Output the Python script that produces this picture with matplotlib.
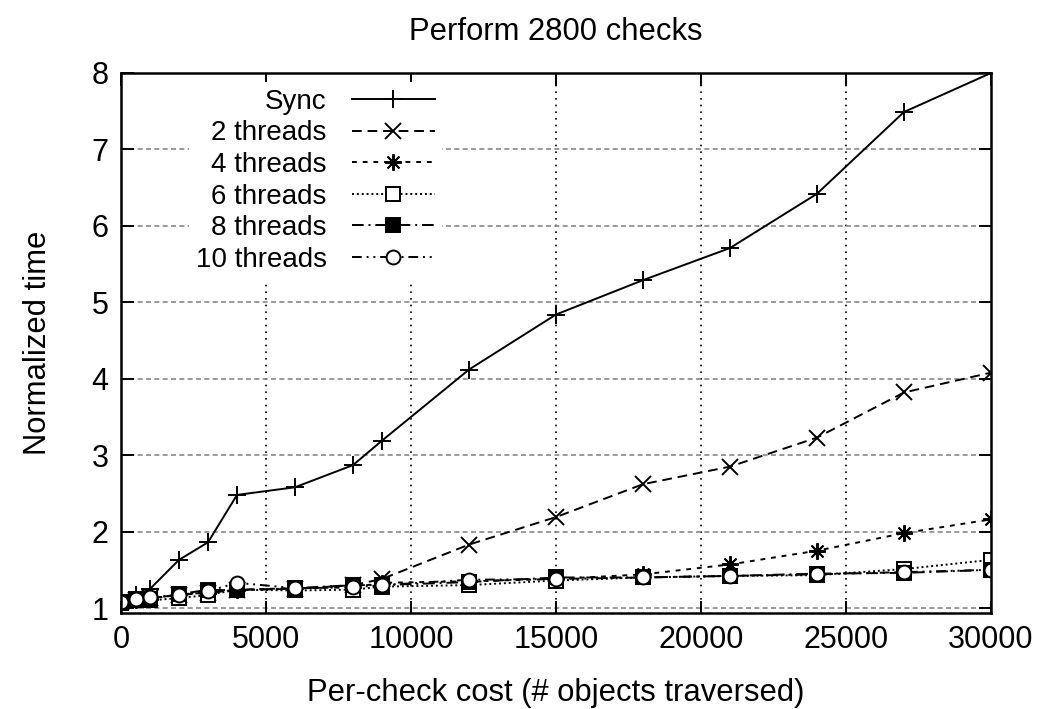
import matplotlib
matplotlib.use("Agg")
import matplotlib.pyplot as plt

plt.rcParams['font.family'] = ['Liberation Sans', 'DejaVu Sans']

x = [0, 500, 1000, 2000, 3000, 4000, 6000, 8000, 9000, 12000, 15000, 18000, 21000, 24000, 27000, 30000]
sync = [1.08, 1.17, 1.25, 1.63, 1.86, 2.48, 2.58, 2.87, 3.19, 4.12, 4.84, 5.29, 5.71, 6.42, 7.49, 8.00]
t2 = [1.08, 1.10, 1.13, 1.17, 1.20, 1.24, 1.25, 1.30, 1.38, 1.83, 2.19, 2.62, 2.85, 3.23, 3.82, 4.08]
t4 = [1.08, 1.10, 1.12, 1.18, 1.20, 1.24, 1.26, 1.27, 1.33, 1.35, 1.38, 1.44, 1.57, 1.75, 1.98, 2.16]
t6 = [1.07, 1.10, 1.10, 1.13, 1.17, 1.24, 1.23, 1.24, 1.28, 1.30, 1.36, 1.40, 1.42, 1.43, 1.51, 1.63]
t8 = [1.08, 1.12, 1.12, 1.18, 1.24, 1.23, 1.26, 1.30, 1.30, 1.34, 1.40, 1.40, 1.42, 1.45, 1.46, 1.50]
t10 = [1.08, 1.12, 1.14, 1.17, 1.22, 1.33, 1.26, 1.27, 1.30, 1.37, 1.38, 1.40, 1.42, 1.44, 1.47, 1.50]

labels = ["Sync", "2 threads", "4 threads", "6 threads", "8 threads", "10 threads"]
xticks = [0, 5000, 10000, 15000, 20000, 25000, 30000]
yticks = [1, 2, 3, 4, 5, 6, 7, 8]

fig = plt.figure(figsize=(10.42, 7.09), dpi=100)
ax = fig.add_axes([121/1042, 1 - 613/709, (991 - 121)/1042, (613 - 73)/709])

lw = 1.4
ax.plot(x, sync, color='black', lw=lw, ls='-', marker='+', ms=13, mew=1.4, label=labels[0])
ax.plot(x, t2, color='black', lw=lw, ls=(0, (5, 3)), marker='x', ms=11, mew=1.4, label=labels[1])
ax.plot(x, t4, color='black', lw=lw, ls=(0, (2.5, 3)), marker=(8, 2, 0), ms=12, mew=1.4, label=labels[2])
ax.plot(x, t6, color='black', lw=lw, ls=(0, (1, 1.5)), marker='s', ms=10, mew=1.4, mfc='white', label=labels[3])
ax.plot(x, t8, color='black', lw=lw, ls=(0, (6, 2.5, 1, 2.5)), marker='s', ms=10, mew=1.4, mfc='black', label=labels[4])
ax.plot(x, t10, color='black', lw=lw, ls=(0, (5, 2.5, 1, 2.5, 1, 2.5)), marker='o', ms=10, mew=1.4, mfc='white', label=labels[5])

ax.set_xlim(0, 30000)
ax.set_ylim(0.935, 8.0)
ax.set_xticks(xticks)
ax.set_yticks(yticks)

for xv in xticks[1:-1]:
    ax.axvline(xv, color='black', lw=1.2, ls=(0, (1, 3)), zorder=0)
for yv in yticks[:-1]:
    ax.axhline(yv, color='#888888', lw=1.2, ls=(0, (3, 2)), zorder=0)

ax.tick_params(direction='in', top=True, right=True, length=9, width=1.4, labelsize=22, pad=9)
for s in ax.spines.values():
    s.set_linewidth(1.8)

ax.set_title("Perform 2800 checks", fontsize=22.3, pad=24)
ax.set_xlabel("Per-check cost (# objects traversed)", fontsize=22.3, labelpad=16)
ax.set_ylabel("Normalized time", fontsize=22.3, labelpad=28)

leg = ax.legend(loc='upper right', bbox_to_anchor=(442/1042, 1 - 82/709), bbox_transform=fig.transFigure,
                markerfirst=False, frameon=True, fancybox=False, edgecolor='none', facecolor='white',
                framealpha=1, fontsize=20, handlelength=3.0, labelspacing=0.2, borderpad=0.25,
                handletextpad=0.9, borderaxespad=0)
leg.set_zorder(1.5)

fig.savefig("out.png", dpi=100)
